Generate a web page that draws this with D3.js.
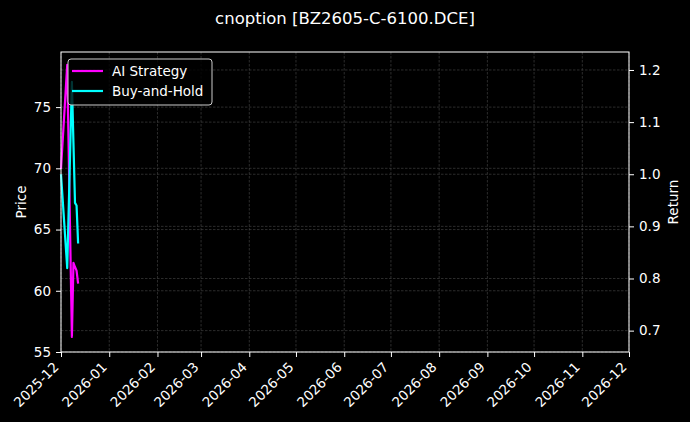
<!DOCTYPE html>
<html>
<head>
<meta charset="utf-8">
<script src="https://cdn.jsdelivr.net/npm/d3@7"></script>
<style>
  body { margin: 0; background: #000; }
  svg { display: block; font-family: "DejaVu Sans", sans-serif; }
</style>
</head>
<body>
<div id="chart"></div>
<script>
var W = 690, H = 422;
var margin = {top: 52, right: 61, bottom: 70, left: 61};
var width = W - margin.left - margin.right,
    height = H - margin.top - margin.bottom;

var title = "cnoption [BZ2605-C-6100.DCE]";
var legends = ["AI Strategy", "Buy-and-Hold"];
var colors = ["#ff00ff", "#00ffff"];

// trading days (vertices)
var dates = ["2025-12-01", "2025-12-05", "2025-12-08", "2025-12-09", "2025-12-10", "2025-12-11", "2025-12-12"];
var aiReturn = [1.01, 1.21, 0.688, 0.83, 0.822, 0.815, 0.79];
var bhReturn = [1.00, 0.82, 1.177, 1.06, 0.945, 0.94, 0.867];

var xDomain = ["2025-12-01", "2026-12-01"];
var priceDomain = [55, 79.5];
var returnDomain = [0.659, 1.2345];
var priceTicks = [55, 60, 65, 70, 75];
var returnTicks = [0.7, 0.8, 0.9, 1.0, 1.1, 1.2];

var fs = "13.5px";
var parse = d3.timeParse("%Y-%m-%d");

var x = d3.scaleTime()
  .domain(xDomain.map(parse))
  .range([0, width]);

var yL = d3.scaleLinear().domain(priceDomain).range([height, 0]);
var yR = d3.scaleLinear().domain(returnDomain).range([height, 0]);

var svg = d3.select("#chart").append("svg")
  .attr("width", W).attr("height", H);

svg.append("rect").attr("width", W).attr("height", H).attr("fill", "#000");

svg.append("text")
  .attr("x", W / 2).attr("y", 24)
  .attr("text-anchor", "middle")
  .attr("fill", "#fff")
  .style("font-size", "16.5px")
  .text(title);

var g = svg.append("g")
  .attr("transform", "translate(" + margin.left + "," + margin.top + ")");

var monthTicks = x.ticks(d3.timeMonth.every(1));

// grid
var grid = g.append("g")
  .attr("stroke", "#4a4a4a")
  .attr("stroke-width", 0.6)
  .attr("stroke-dasharray", "2.5,1.5");

grid.selectAll(".vx").data(monthTicks).join("line")
  .attr("x1", d => x(d)).attr("x2", d => x(d))
  .attr("y1", 0).attr("y2", height);
grid.selectAll(".hl").data(priceTicks).join("line")
  .attr("x1", 0).attr("x2", width)
  .attr("y1", d => yL(d)).attr("y2", d => yL(d));
grid.selectAll(".hr").data(returnTicks).join("line")
  .attr("x1", 0).attr("x2", width)
  .attr("y1", d => yR(d)).attr("y2", d => yR(d));

// lines
var series = [aiReturn, bhReturn];
var line = d3.line()
  .x((d, i) => x(parse(dates[i])))
  .y(d => yR(d));

g.append("g").selectAll("path").data(series).join("path")
  .attr("fill", "none")
  .attr("stroke", (d, i) => colors[i])
  .attr("stroke-width", 2.2)
  .attr("stroke-linejoin", "round")
  .attr("d", line);

// axes
var styleAxis = sel => {
  sel.select(".domain").remove();
  sel.selectAll(".tick line").attr("stroke", "#fff").attr("stroke-width", 1);
  sel.selectAll(".tick text").attr("fill", "#fff").style("font-size", fs)
    .style("font-family", "DejaVu Sans, sans-serif");
};

g.append("g")
  .attr("transform", "translate(0," + height + ")")
  .call(d3.axisBottom(x).tickValues(monthTicks).tickFormat(d3.timeFormat("%Y-%m")).tickSize(5))
  .call(styleAxis)
  .selectAll(".tick text")
    .attr("text-anchor", "end")
    .attr("x", 0).attr("y", 0).attr("dy", 0)
    .attr("transform", "translate(-2,16) rotate(-45)");

g.append("g")
  .call(d3.axisLeft(yL).tickValues(priceTicks).tickSize(5).tickPadding(5))
  .call(styleAxis);

g.append("g")
  .attr("transform", "translate(" + width + ",0)")
  .call(d3.axisRight(yR).tickValues(returnTicks).tickFormat(d3.format(".1f")).tickSize(5).tickPadding(5))
  .call(styleAxis);

// spines
g.append("rect")
  .attr("width", width).attr("height", height)
  .attr("fill", "none").attr("stroke", "#fff").attr("stroke-width", 1);

// axis labels
svg.append("text")
  .attr("transform", "translate(21," + (margin.top + height / 2) + ") rotate(-90)")
  .attr("text-anchor", "middle").attr("dy", "0.35em")
  .attr("fill", "#fff").style("font-size", fs)
  .text("Price");

svg.append("text")
  .attr("transform", "translate(673," + (margin.top + height / 2) + ") rotate(-90)")
  .attr("text-anchor", "middle").attr("dy", "0.35em")
  .attr("fill", "#fff").style("font-size", fs)
  .text("Return");

// legend
var lg = g.append("g").attr("transform", "translate(7,7)");
lg.append("rect")
  .attr("width", 144).attr("height", 46)
  .attr("rx", 3)
  .attr("fill", "#000").attr("fill-opacity", 0.8)
  .attr("stroke", "#ccc").attr("stroke-width", 1);

var item = lg.selectAll(".item").data(legends).join("g")
  .attr("transform", (d, i) => "translate(0," + (12 + i * 20) + ")");
item.append("line")
  .attr("x1", 4).attr("x2", 35)
  .attr("stroke", (d, i) => colors[i]).attr("stroke-width", 2.2);
item.append("text")
  .attr("x", 44).attr("dy", "0.35em")
  .attr("fill", "#fff").style("font-size", fs)
  .text(d => d);
</script>
</body>
</html>
